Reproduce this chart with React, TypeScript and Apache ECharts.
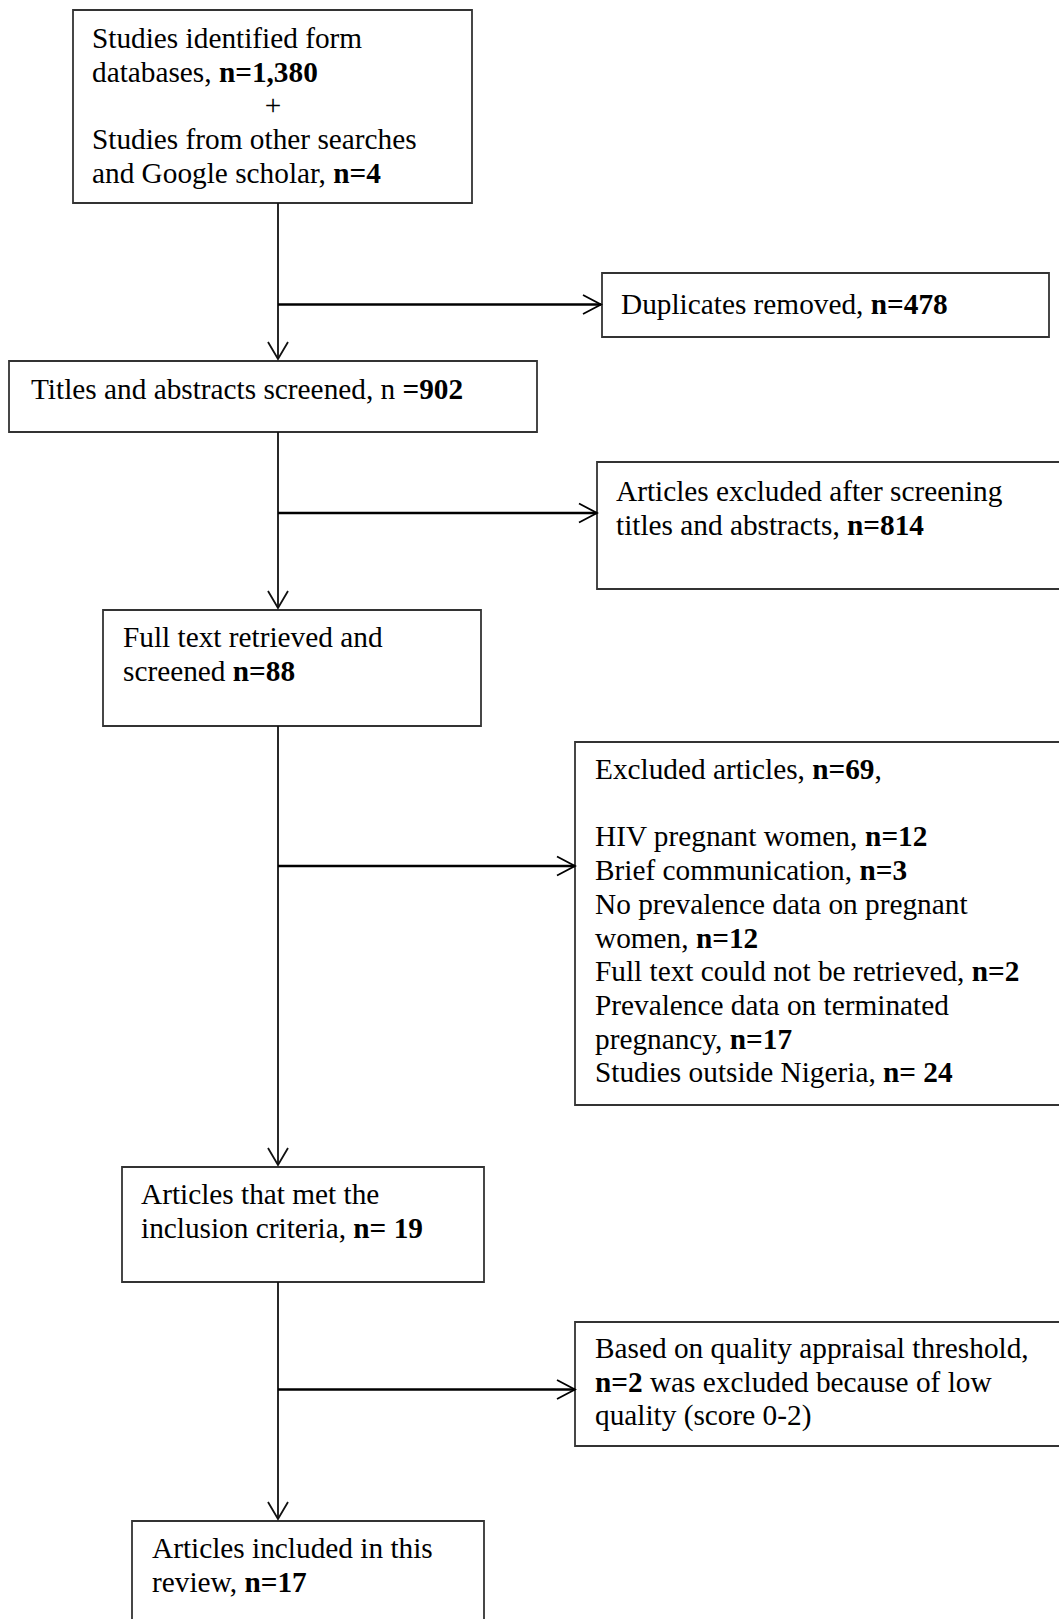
import React, { useEffect, useRef } from "react";
import * as echarts from "echarts";

// ---- Flow-chart content (text; **...** marks bold runs) ----
const identifiedLines = [
  "Studies identified form",
  "databases, **n=1,380**",
  "+",
  "Studies from other searches",
  "and Google scholar, **n=4**",
];
const duplicatesLines = ["Duplicates removed, **n=478**"];
const screenedLines = ["Titles and abstracts screened, n **=902**"];
const excludedScreeningLines = [
  "Articles excluded after screening",
  "titles and abstracts, **n=814**",
];
const fullTextLines = ["Full text retrieved and", "screened **n=88**"];
const excludedArticlesLines = [
  "Excluded articles, **n=69**,",
  "",
  "HIV pregnant women, **n=12**",
  "Brief communication, **n=3**",
  "No prevalence data on pregnant",
  "women, **n=12**",
  "Full text could not be retrieved, **n=2**",
  "Prevalence data on terminated",
  "pregnancy, **n=17**",
  "Studies outside Nigeria, **n= 24**",
];
const metCriteriaLines = ["Articles that met the", "inclusion criteria, **n= 19**"];
const qualityLines = [
  "Based on quality appraisal threshold,",
  "**n=2** was excluded because of low",
  "quality (score 0-2)",
];
const includedLines = ["Articles included in this", "review, **n=17**"];

// ---- Layout (pixel geometry) ----
const FONT = "'Liberation Serif', 'Times New Roman', serif";
const FS = 29.3;
const LH = 33.7;
const TRUNK_X = 278;

type Box = { x: number; y: number; w: number; h: number; tx: number; ty: number; lines: string[]; centerPlusX?: number };

const boxes: Box[] = [
  { x: 73, y: 10, w: 399, h: 193, tx: 92, ty: 38, lines: identifiedLines, centerPlusX: 273 },
  { x: 602, y: 273, w: 447, h: 64, tx: 621, ty: 304, lines: duplicatesLines },
  { x: 9, y: 361, w: 528, h: 71, tx: 31, ty: 389, lines: screenedLines },
  { x: 597, y: 462, w: 480, h: 127, tx: 616, ty: 491, lines: excludedScreeningLines },
  { x: 103, y: 610, w: 378, h: 116, tx: 123, ty: 637, lines: fullTextLines },
  { x: 575, y: 742, w: 500, h: 363, tx: 595, ty: 769, lines: excludedArticlesLines },
  { x: 122, y: 1167, w: 362, h: 115, tx: 141, ty: 1194, lines: metCriteriaLines },
  { x: 575, y: 1322, w: 500, h: 124, tx: 595, ty: 1348, lines: qualityLines },
  { x: 132, y: 1521, w: 352, h: 140, tx: 152, ty: 1548, lines: includedLines },
];

// vertical trunk segments [fromY, arrowTipY]
const trunkSegments: [number, number][] = [
  [203, 359],
  [432, 608],
  [726, 1165],
  [1282, 1519],
];
// horizontal branches [y, arrowTipX]
const branches: [number, number][] = [
  [304.5, 601],
  [513, 597],
  [866, 575],
  [1389.5, 575],
];

function toRich(line: string): string {
  const parts = line.split(/(\*\*[^*]+\*\*)/).filter((p) => p.length > 0);
  return parts
    .map((p) => (p.startsWith("**") ? `{b|${p.slice(2, -2)}}` : `{r|${p}}`))
    .join("");
}

const rich = {
  r: { fontFamily: FONT, fontSize: FS, fill: "#000" },
  b: { fontFamily: FONT, fontSize: FS, fontWeight: "bold", fill: "#000" },
};

function buildElements(): any[] {
  const els: any[] = [];
  boxes.forEach((b) => {
    els.push({
      type: "rect",
      shape: { x: b.x, y: b.y, width: b.w, height: b.h },
      style: { fill: "#fff", stroke: "#333", lineWidth: 1.8 },
    });
    b.lines.forEach((ln, i) => {
      if (!ln) return;
      const isPlus = ln === "+" && b.centerPlusX !== undefined;
      els.push({
        type: "text",
        x: isPlus ? b.centerPlusX : b.tx,
        y: b.ty + i * LH,
        style: {
          text: toRich(ln),
          rich,
          align: isPlus ? "center" : "left",
          verticalAlign: "middle",
          fontFamily: FONT,
          fontSize: FS,
          fill: "#000",
        },
      });
    });
  });
  trunkSegments.forEach(([y1, y2]) => {
    els.push({
      type: "line",
      shape: { x1: TRUNK_X, y1, x2: TRUNK_X, y2 },
      style: { stroke: "#111", lineWidth: 1.8 },
    });
    els.push({
      type: "polyline",
      shape: { points: [[TRUNK_X - 10, y2 - 17], [TRUNK_X, y2], [TRUNK_X + 10, y2 - 17]] },
      style: { stroke: "#111", lineWidth: 1.8, fill: "none" },
    });
  });
  branches.forEach(([y, x2]) => {
    els.push({
      type: "line",
      shape: { x1: TRUNK_X, y1: y, x2, y2: y },
      style: { stroke: "#000", lineWidth: 2.4 },
    });
    els.push({
      type: "polyline",
      shape: { points: [[x2 - 18, y - 9.5], [x2, y], [x2 - 18, y + 9.5]] },
      style: { stroke: "#000", lineWidth: 1.8, fill: "none" },
    });
  });
  return els;
}

export default function App() {
  const ref = useRef<HTMLDivElement>(null);
  useEffect(() => {
    document.body.style.margin = "0";
    const chart = echarts.init(ref.current!, undefined, { renderer: "svg" });
    chart.setOption({
      animation: false,
      graphic: { elements: buildElements() },
    });
    return () => chart.dispose();
  }, []);
  return (
    <div
      ref={ref}
      style={{ position: "absolute", left: 0, top: 0, width: 1059, height: 1619, overflow: "hidden", background: "#fff" }}
    />
  );
}
